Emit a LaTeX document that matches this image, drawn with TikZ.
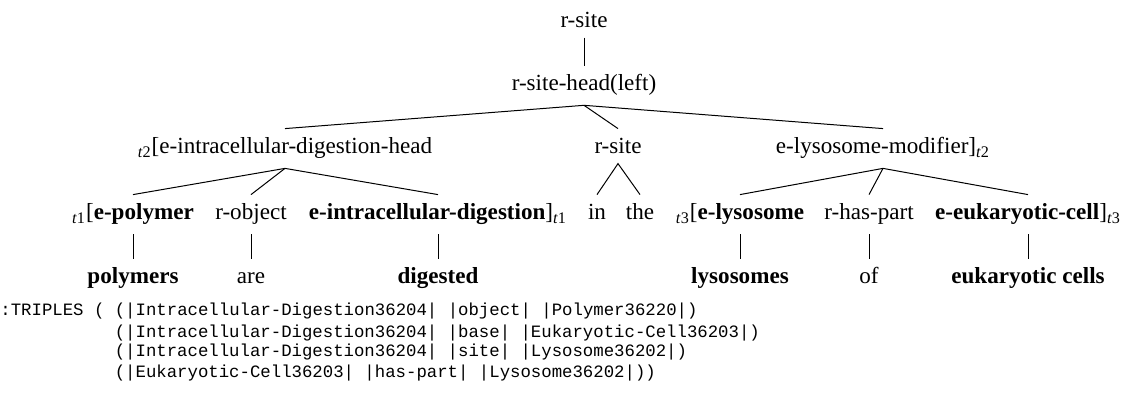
\documentclass[tikz,border=0pt]{standalone}
\usepackage{fontspec}
\setmainfont{Liberation Serif}
\newfontfamily\monofont{Liberation Mono}
\newcommand\tsb[1]{\textsubscript{\textit{t}#1}}
\begin{document}
\begin{tikzpicture}[x=0.5pt,y=-0.5pt,
  tn/.style={anchor=base, inner sep=4.5pt, text height=8pt, font=\fontsize{11.55}{14}\selectfont},
  code/.style={anchor=base west, inner sep=0pt, font=\monofont\fontsize{8.67}{10.35}\selectfont},
  edge/.style={line width=0.5pt}]
\useasboundingbox (0,0) rectangle (1123,416);
% level 0-1
\node[tn] (root) at (584,28) {r-site};
\node[tn] (head) at (584,91) {r-site-head(left)};
% level 2
\node[tn] (L) at (285,154) {\tsb{2}[e-intracellular-digestion-head};
\node[tn] (M) at (618,154) {r-site};
\node[tn] (R) at (883,154) {e-lysosome-modifier]\tsb{2}};
% level 3
\node[tn] (a) at (133,220) {\tsb{1}[\textbf{e-polymer}};
\node[tn] (b) at (251,220) {r-object};
\node[tn] (c) at (438,220) {\textbf{e-intracellular-digestion}]\tsb{1}};
\node[tn] (d) at (597,220) {in};
\node[tn] (e) at (640,220) {the};
\node[tn] (f) at (740,220) {\tsb{3}[\textbf{e-lysosome}};
\node[tn] (g) at (869,220) {r-has-part};
\node[tn] (h) at (1028,220) {\textbf{e-eukaryotic-cell}]\tsb{3}};
% level 4
\node[tn] (wa) at (133,284) {\textbf{polymers}};
\node[tn] (wb) at (251,284) {are};
\node[tn] (wc) at (438,284) {\textbf{digested}};
\node[tn] (wf) at (740,284) {\textbf{lysosomes}};
\node[tn] (wg) at (869,284) {of};
\node[tn] (wh) at (1028,284) {\textbf{eukaryotic cells}};
% edges
\draw[edge] (root.south) -- (head.north);
\draw[edge] (L.north) -- (head.south) -- (R.north);
\draw[edge] (head.south) -- (M.north);
\draw[edge] (a.north) -- (L.south) -- (c.north);
\draw[edge] (L.south) -- (b.north);
\draw[edge] (d.north) -- (M.south) -- (e.north);
\draw[edge] (f.north) -- (R.south) -- (h.north);
\draw[edge] (R.south) -- (g.north);
\draw[edge] (a.south) -- (wa.north);
\draw[edge] (b.south) -- (wb.north);
\draw[edge] (c.south) -- (wc.north);
\draw[edge] (f.south) -- (wf.north);
\draw[edge] (g.south) -- (wg.north);
\draw[edge] (h.south) -- (wh.north);
% triples
\node[code] (t1) at (0,316) {:TRIPLES ( (|Intracellular-Digestion36204| |object| |Polymer36220|)};
\node[code] (t2) at (114.4,337) {(|Intracellular-Digestion36204| |base| |Eukaryotic-Cell36203|)};
\node[code] (t3) at (114.4,357) {(|Intracellular-Digestion36204| |site| |Lysosome36202|)};
\node[code] (t4) at (114.4,378) {(|Eukaryotic-Cell36203| |has-part| |Lysosome36202|))};
\end{tikzpicture}
\end{document}
